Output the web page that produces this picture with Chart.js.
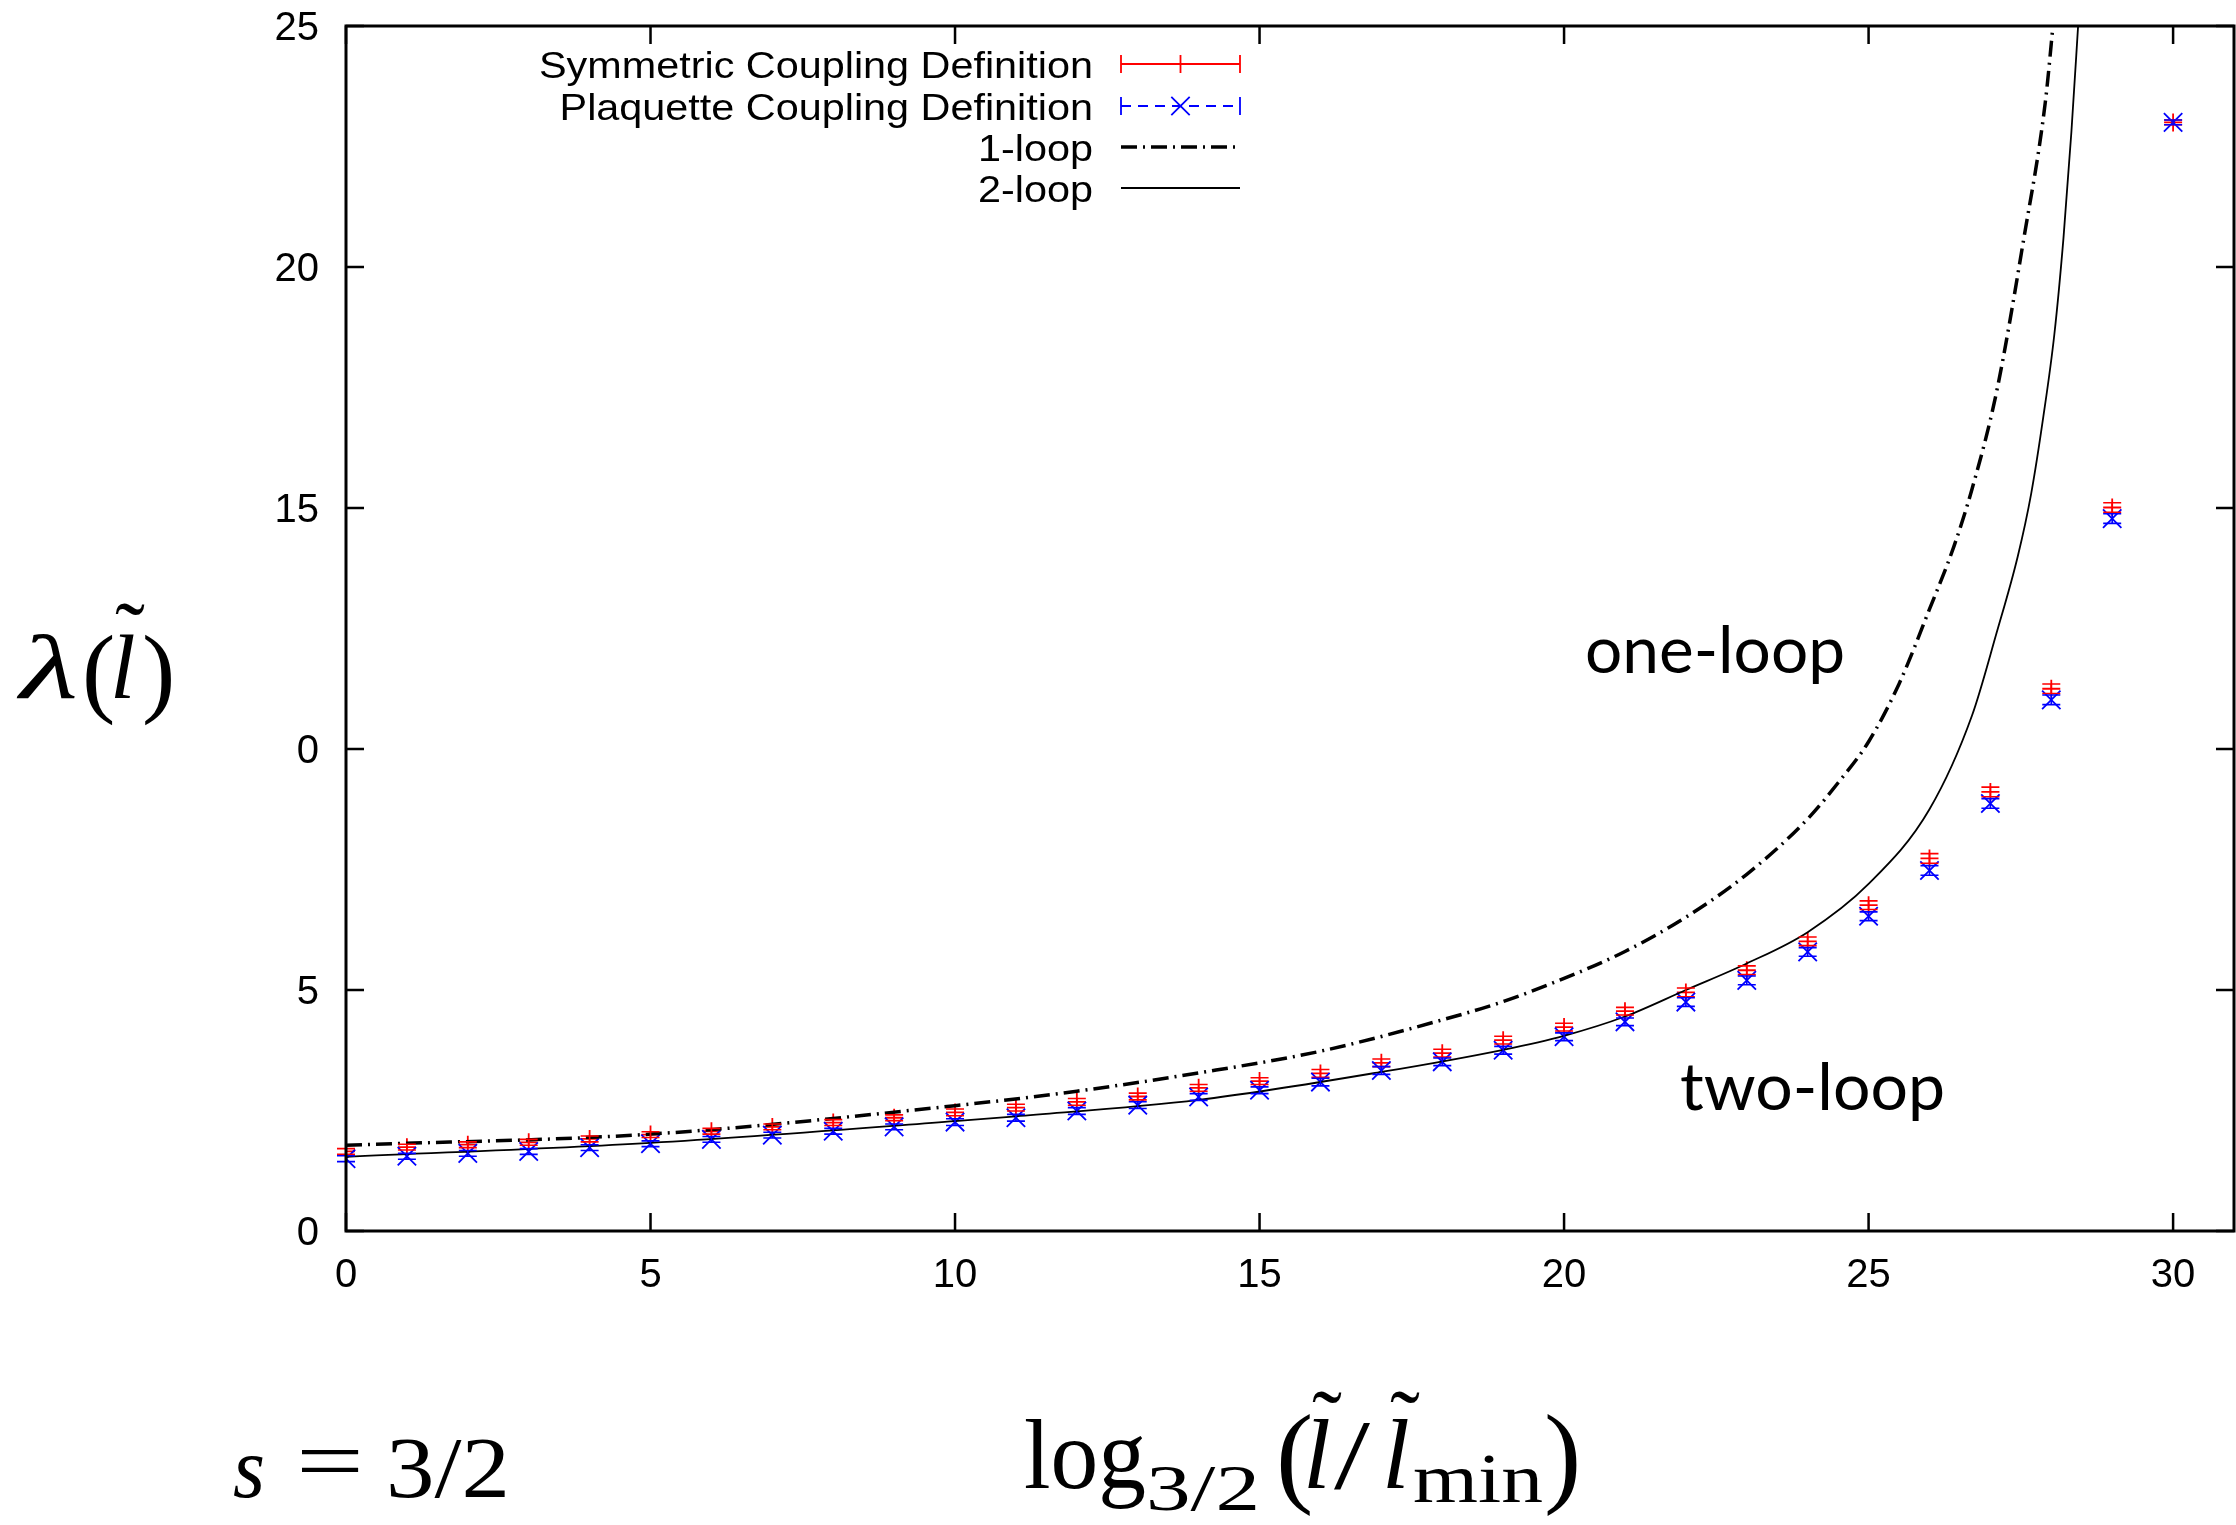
<!DOCTYPE html>
<html>
<head>
<meta charset="utf-8">
<script src="https://cdn.jsdelivr.net/npm/chart.js@4.4.1/dist/chart.umd.min.js"></script>
<style>
  html, body { margin: 0; background: #fff; overflow: hidden; }
  canvas { display: block; }
</style>
</head>
<body>
<canvas id="lambda-chart" width="2236" height="1525"></canvas>
<script>
// log_{3/2} steps of the blocking
const steps = [0, 1, 2, 3, 4, 5, 6, 7, 8, 9, 10, 11, 12, 13, 14, 15, 16, 17, 18, 19, 20, 21, 22, 23, 24, 25, 26, 27, 28, 29, 30]

const symmetric = [1.65, 1.74, 1.79, 1.84, 1.91, 2.00, 2.07, 2.16, 2.25, 2.35, 2.46, 2.56, 2.68, 2.79, 2.97, 3.11,
  3.27, 3.49, 3.69, 3.96, 4.23, 4.56, 4.95, 5.41, 6.01, 6.76, 7.73, 9.11, 11.25, 15.01, 23.0]
const symmetricErr = [0.06, 0.06, 0.06, 0.06, 0.06, 0.06, 0.06, 0.06, 0.06, 0.06, 0.07, 0.07, 0.07, 0.07, 0.07, 0.07,
  0.08, 0.08, 0.08, 0.08, 0.08, 0.08, 0.09, 0.09, 0.09, 0.09, 0.1, 0.1, 0.1, 0.1, 0.05]

const plaquette = [1.50, 1.55, 1.61, 1.65, 1.73, 1.81, 1.90, 1.99, 2.07, 2.16, 2.26, 2.35, 2.49, 2.61, 2.78, 2.92,
  3.09, 3.33, 3.51, 3.75, 4.03, 4.34, 4.75, 5.20, 5.79, 6.53, 7.48, 8.87, 11.02, 14.78, 23.0]
const plaquetteErr = [0.06, 0.06, 0.06, 0.06, 0.06, 0.06, 0.06, 0.06, 0.06, 0.06, 0.07, 0.07, 0.07, 0.07, 0.07, 0.07,
  0.08, 0.08, 0.08, 0.08, 0.08, 0.08, 0.09, 0.09, 0.09, 0.09, 0.1, 0.1, 0.1, 0.1, 0.05]

// perturbative curves
const oneLoopX = [0, 5, 10, 12, 14, 16, 18, 19, 20, 21, 22, 23, 24, 24.5, 25, 25.5, 26, 26.4, 26.7, 27.1, 27.55, 27.9, 28.05]
const oneLoopY = [1.78, 2.01, 2.60, 2.90, 3.28, 3.73, 4.38, 4.76, 5.24, 5.80, 6.51, 7.40, 8.55, 9.3, 10.15, 11.35, 12.9, 14.2, 15.4, 17.4, 20.6, 23.4, 25.3]
const twoLoopX = [0, 5, 10, 11, 14, 17, 19, 20, 21, 22, 23, 24, 25, 26, 26.7, 27.1, 27.45, 27.67, 27.87, 28.05, 28.2, 28.33, 28.45]
const twoLoopY = [1.54, 1.83, 2.28, 2.38, 2.72, 3.30, 3.76, 4.05, 4.45, 5.0, 5.55, 6.2, 7.2, 8.75, 10.7, 12.4, 14.0, 15.3, 16.9, 18.6, 20.6, 22.8, 25.2]

const xTicks = [0, 5, 10, 15, 20, 25, 30]
const yTicks = [0, 5, 10, 15, 20, 25]
const yTickLabels = ['0', '5', '0', '15', '20', '25']

const pts = (xs, ys) => xs.map((x, i) => ({ x, y: ys[i] }))

// text squeezed/stretched horizontally to a given width
function fitText(ctx, str, x, y, width, align) {
  const w0 = ctx.measureText(str).width
  ctx.save()
  ctx.translate(x, y)
  ctx.scale(width / w0, 1)
  ctx.textAlign = 'left'
  ctx.fillText(str, align === 'right' ? -w0 : 0, 0)
  ctx.restore()
}

const errorBars = {
  id: 'errorBars',
  afterDatasetsDraw(chart) {
    const { ctx, scales: { x, y } } = chart
    chart.data.datasets.forEach(ds => {
      if (!ds.errors) return
      ctx.save()
      ctx.strokeStyle = ds.borderColor
      ctx.lineWidth = 1.6
      ctx.beginPath()
      ds.data.forEach((p, j) => {
        const px = x.getPixelForValue(p.x)
        const lo = y.getPixelForValue(p.y - ds.errors[j])
        const hi = y.getPixelForValue(p.y + ds.errors[j])
        ctx.moveTo(px, lo); ctx.lineTo(px, hi)
        ctx.moveTo(px - 9, lo); ctx.lineTo(px + 9, lo)
        ctx.moveTo(px - 9, hi); ctx.lineTo(px + 9, hi)
      })
      ctx.stroke()
      ctx.restore()
    })
  }
}

const gnuplotFrame = {
  id: 'gnuplotFrame',
  afterDraw(chart) {
    const { ctx, chartArea: a, scales: { x, y } } = chart
    ctx.save()

    // border with inward ticks on all four sides
    ctx.strokeStyle = '#000'
    ctx.lineWidth = 3
    ctx.strokeRect(a.left, a.top, a.right - a.left, a.bottom - a.top)
    ctx.lineWidth = 2.5
    ctx.beginPath()
    xTicks.forEach(v => {
      const px = x.getPixelForValue(v)
      ctx.moveTo(px, a.bottom); ctx.lineTo(px, a.bottom - 18)
      ctx.moveTo(px, a.top); ctx.lineTo(px, a.top + 18)
    })
    yTicks.forEach(v => {
      const py = y.getPixelForValue(v)
      ctx.moveTo(a.left, py); ctx.lineTo(a.left + 18, py)
      ctx.moveTo(a.right, py); ctx.lineTo(a.right - 18, py)
    })
    ctx.stroke()

    // tick labels
    ctx.fillStyle = '#000'
    ctx.font = '40px "Liberation Sans"'
    ctx.textBaseline = 'alphabetic'
    ctx.textAlign = 'center'
    xTicks.forEach(v => ctx.fillText(String(v), x.getPixelForValue(v), a.bottom + 56))
    ctx.textAlign = 'right'
    yTicks.forEach((v, i) => ctx.fillText(yTickLabels[i], a.left - 27, y.getPixelForValue(v) + 14))

    // key, top left
    const ds = chart.data.datasets
    const rows = [78, 120, 161, 202]
    const sx0 = 1121, sx1 = 1240
    ctx.font = '37px "Liberation Sans"'
    const stretch = 554 / ctx.measureText(ds[0].label).width
    ds.forEach((d, i) => {
      fitText(ctx, d.label, 1093, rows[i], ctx.measureText(d.label).width * stretch, 'right')
    })
    const ly = rows.map(r => r - 14)
    // symmetric: errorbar style sample
    ctx.strokeStyle = ds[0].borderColor
    ctx.lineWidth = 1.8
    ctx.setLineDash([])
    ctx.beginPath()
    ctx.moveTo(sx0, ly[0]); ctx.lineTo(sx1, ly[0])
    ctx.moveTo(sx0, ly[0] - 9); ctx.lineTo(sx0, ly[0] + 9)
    ctx.moveTo(sx1, ly[0] - 9); ctx.lineTo(sx1, ly[0] + 9)
    ctx.stroke()
    Chart.helpers.drawPoint(ctx, { pointStyle: 'cross', radius: 9, borderWidth: 1.8 }, (sx0 + sx1) / 2, ly[0])
    // plaquette: dashed errorbar sample
    ctx.strokeStyle = ds[1].borderColor
    ctx.beginPath()
    ctx.moveTo(sx0, ly[1] - 9); ctx.lineTo(sx0, ly[1] + 9)
    ctx.moveTo(sx1, ly[1] - 9); ctx.lineTo(sx1, ly[1] + 9)
    ctx.stroke()
    ctx.setLineDash([10, 7])
    ctx.beginPath()
    ctx.moveTo(sx0, ly[1]); ctx.lineTo(sx1, ly[1])
    ctx.stroke()
    ctx.setLineDash([])
    Chart.helpers.drawPoint(ctx, { pointStyle: 'crossRot', radius: 13, borderWidth: 1.8 }, (sx0 + sx1) / 2, ly[1])
    // 1-loop and 2-loop samples
    ctx.strokeStyle = '#000'
    ctx.lineWidth = ds[2].borderWidth
    ctx.setLineDash(ds[2].borderDash)
    ctx.beginPath(); ctx.moveTo(sx0, ly[2]); ctx.lineTo(sx1, ly[2]); ctx.stroke()
    ctx.setLineDash([])
    ctx.lineWidth = ds[3].borderWidth
    ctx.beginPath(); ctx.moveTo(sx0, ly[3]); ctx.lineTo(sx1, ly[3]); ctx.stroke()

    // curve annotations
    ctx.font = '65px Lato'
    fitText(ctx, 'one-loop', 1585, 673, 260)
    fitText(ctx, 'two-loop', 1680, 1110, 265)

    // axis titles in TeX style
    const serif = (size, italic) => (italic ? 'italic ' : '') + size + 'px "Liberation Serif"'
    const put = (str, font, x0, base, width) => {
      ctx.font = font
      if (width) fitText(ctx, str, x0, base, width)
      else { ctx.textAlign = 'left'; ctx.fillText(str, x0, base) }
    }
    const tilde = (cx, top, size) => {
      ctx.font = serif(size, false)
      ctx.textAlign = 'center'
      ctx.fillText('\u02DC', cx, top + size * 0.72)
    }

    // λ(l̃)
    put('\u03BB', serif(92, true), 20, 698, 58)
    put('(', serif(100, false), 82, 704)
    put('l', serif(92, true), 110, 698)
    tilde(130, 600, 90)
    put(')', serif(100, false), 142, 704)

    // log_{3/2}(l̃/l̃_min)
    put('log', serif(100, false), 1024, 1488, 122)
    put('3/2', serif(66, false), 1146, 1510, 114)
    put('(', serif(112, false), 1276, 1492)
    put('l', serif(100, true), 1303, 1488)
    tilde(1327, 1388, 90)
    put('/', serif(100, false), 1334, 1488, 36)
    put('l', serif(100, true), 1382, 1488)
    tilde(1405, 1388, 90)
    put('min', serif(70, false), 1413, 1502, 130)
    put(')', serif(112, false), 1544, 1492)

    // s = 3/2
    put('s', serif(86, true), 233, 1497, 32)
    put('=', serif(86, false), 296, 1490, 68)
    put('3/2', serif(86, false), 386, 1497, 124)

    ctx.restore()
  }
}

new Chart(document.getElementById('lambda-chart').getContext('2d'), {
  type: 'scatter',
  data: {
    datasets: [
      {
        label: 'Symmetric Coupling Definition',
        data: pts(steps, symmetric),
        errors: symmetricErr,
        borderColor: '#ff0000',
        pointBorderColor: '#ff0000',
        pointStyle: 'cross',
        pointRadius: 9,
        pointBorderWidth: 1.8,
        showLine: false,
        order: 3
      },
      {
        label: 'Plaquette Coupling Definition',
        data: pts(steps, plaquette),
        errors: plaquetteErr,
        borderColor: '#0000ff',
        pointBorderColor: '#0000ff',
        pointStyle: 'crossRot',
        pointRadius: 13,
        pointBorderWidth: 1.8,
        showLine: false,
        order: 2
      },
      {
        label: '1-loop',
        data: pts(oneLoopX, oneLoopY),
        showLine: true,
        borderColor: '#000',
        borderWidth: 3.5,
        borderDash: [16, 6, 2, 6],
        pointRadius: 0,
        cubicInterpolationMode: 'monotone',
        order: 1
      },
      {
        label: '2-loop',
        data: pts(twoLoopX, twoLoopY),
        showLine: true,
        borderColor: '#000',
        borderWidth: 1.8,
        pointRadius: 0,
        cubicInterpolationMode: 'monotone',
        order: 0
      }
    ]
  },
  options: {
    responsive: false,
    animation: false,
    devicePixelRatio: 1,
    // fixed plot box; no extra room for point overflow
    layout: { autoPadding: false, padding: { top: 26, right: 2, left: 0, bottom: 0 } },
    plugins: { legend: { display: false }, tooltip: { enabled: false } },
    scales: {
      // labels are drawn by gnuplotFrame, so the scales only fix the plot box
      x: {
        type: 'linear', min: 0, max: 31,
        afterFit: s => { s.height = 294 },
        grid: { display: false, drawTicks: false },
        border: { display: false },
        ticks: { display: false }
      },
      y: {
        type: 'linear', min: 0, max: 25,
        afterFit: s => { s.width = 346 },
        grid: { display: false, drawTicks: false },
        border: { display: false },
        ticks: { display: false }
      }
    }
  },
  plugins: [errorBars, gnuplotFrame]
})
</script>
</body>
</html>
